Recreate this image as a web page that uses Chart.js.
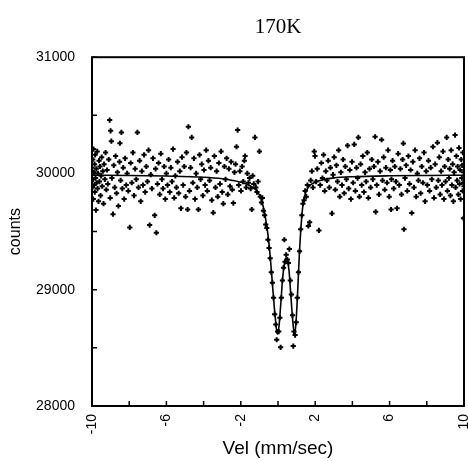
<!DOCTYPE html>
<html><head><meta charset="utf-8">
<script src="https://cdn.jsdelivr.net/npm/chart.js@4/dist/chart.umd.min.js"></script>
<style>html,body{margin:0;padding:0;background:#fff}#wrap{width:468px;height:461px}</style>
</head><body><div id="wrap"><canvas id="c" width="468" height="461"></canvas></div>
<script>
const chartTitle = "170K";
const xTitle = "Vel (mm/sec)";
const yTitle = "counts";
const xLabelTicks = [-10, -6, -2, 2, 6, 10];
const yLabelTicks = [28000, 29000, 30000, 31000];

// measured points [velocity, counts]
const dataLeft = [
[-10.00,30050],[-9.98,29880],[-9.96,30120],[-9.95,29950],[-9.93,29780],[-9.92,30210],[-9.90,30010],[-9.88,29900],
[-9.86,30080],[-9.85,29840],[-9.83,30160],[-9.81,29960],[-9.79,29685],[-9.77,30040],[-9.75,29920],[-9.72,30190],
[-9.70,29870],[-9.68,30000],[-9.65,29760],[-9.62,30110],[-9.60,29930],[-9.57,30060],[-9.54,29810],[-9.51,29980],
[-9.48,30140],[-9.45,29890],[-9.42,30020],[-9.38,29740],[-9.35,30080],[-9.31,29950],[-9.27,30180],[-9.23,29860],
[-9.19,30030],[-9.15,29910],[-9.10,30120],[-9.05,30459],[-9.02,29790],[-9.00,30367],[-8.96,30278],[-8.93,29960],
[-8.87,29650],[-8.83,30070],[-8.78,29880],[-8.73,30150],[-8.68,29830],[-8.63,30010],[-8.58,29720],[-8.52,30100],
[-8.50,30260],[-8.46,29940],[-8.42,30353],[-8.37,29870],[-8.32,30050],[-8.27,29780],[-8.22,30130],[-8.16,29900],
[-8.11,30000],[-8.05,29850],[-7.97,29536],[-7.92,30090],[-7.86,29920],[-7.80,30180],[-7.74,29810],[-7.68,30040],
[-7.62,29950],[-7.56,30353],[-7.50,29880],[-7.44,30110],[-7.38,29760],[-7.32,30020],[-7.26,29900],[-7.20,30160],
[-7.14,29840],[-7.08,30060],[-7.02,29930],[-6.96,30200],[-6.90,29556],[-6.84,29990],[-6.78,29870],[-6.72,30130],
[-6.63,29640],[-6.58,30040],[-6.54,29490],[-6.48,29910],[-6.42,30090],[-6.36,29820],[-6.30,30170],[-6.24,29950],
[-6.18,29870],[-6.12,30060],[-6.06,29780],[-6.00,30000],[-5.94,29900],[-5.88,30120],[-5.82,29840],[-5.76,30050],
[-5.70,29930],[-5.64,30210],[-5.58,29790],[-5.52,29980],[-5.46,29880],[-5.40,30100],[-5.34,29830],[-5.28,30020],
[-5.22,29700],[-5.16,30140],[-5.10,29900],[-5.04,30060],[-4.97,29800],[-4.92,30180],[-4.86,29690],[-4.82,30402],
[-4.76,29850],[-4.70,30050],[-4.64,30310],[-4.58,29920],[-4.52,30130],[-4.46,29780],[-4.40,30000],[-4.34,29880],
[-4.28,29690],[-4.22,30160],[-4.16,29950],[-4.10,30080],[-4.04,29810],[-3.98,30030],[-3.92,29900],[-3.86,30200],
[-3.80,29850],[-3.74,30110],[-3.68,29940],[-3.62,30050],[-3.56,29770],[-3.48,29663],[-3.42,30150],[-3.36,29880],
[-3.30,30020],[-3.24,29800],[-3.18,30090],[-3.12,29910],[-3.06,30190],[-3.00,29840],[-2.94,29740],[-2.88,30060],
[-2.82,29950],[-2.76,30130],[-2.70,29820],[-2.64,30040],[-2.58,29890],[-2.52,30100],[-2.46,29860],[-2.40,29745],
[-2.34,30010],[-2.28,30080],[-2.23,30230],[-2.17,30373],[-2.11,29900],[-2.05,30020]
];
const dataDip = [
[-1.99,29850],[-1.93,30060],[-1.87,29930],[-1.81,30110],[-1.77,30150],[-1.71,29880],[-1.65,30000],[-1.59,29920],
[-1.53,29960],[-1.47,29870],[-1.41,29690],[-1.36,29980],[-1.30,29910],[-1.24,30310],[-1.19,29880],[-1.13,29840],
[-1.07,29930],[-1.00,30190],[-0.95,29800],[-0.89,29750],[-0.84,29790],[-0.78,29680],[-0.72,29640],[-0.66,29560],
[-0.60,29530],[-0.54,29430],[-0.48,29360],[-0.42,29270],[-0.36,29150],[-0.30,29060],[-0.24,28930],[-0.18,28790],
[-0.12,28700],[-0.07,28570],[-0.02,28640],[0.04,28640],[0.10,28760],[0.14,28505],[0.18,28930],[0.24,29080],
[0.30,29190],[0.34,29430],[0.38,29240],[0.44,29300],[0.50,29260],[0.56,29230],[0.61,29350],[0.66,29080],
[0.72,28960],[0.78,28780],[0.82,28515],[0.86,28640],[0.92,28610],[0.98,28720],[1.04,28930],[1.10,29150],
[1.16,29330],[1.22,29520],[1.28,29640],[1.34,29740],[1.40,29770],[1.46,29850],[1.52,29800],[1.58,29900],
[1.63,29548],[1.70,29580],[1.76,29940],[1.82,30020],[1.88,29880],[1.95,30190],[1.99,30150]
];
const dataRight = [
[2.05,29930],[2.11,30040],[2.20,29510],[2.27,29900],[2.33,30090],[2.39,29960],[2.45,30160],[2.51,29850],
[2.57,30020],[2.63,29940],[2.70,30110],[2.76,29880],[2.82,30050],[2.90,29656],[2.96,29990],[3.02,30140],
[3.08,29860],[3.14,30070],[3.20,29930],[3.26,30200],[3.32,29800],[3.38,30010],[3.44,29900],[3.50,30120],
[3.56,29830],[3.62,30060],[3.68,29950],[3.74,30240],[3.80,29870],[3.86,30030],[3.92,29780],[3.98,30100],
[4.04,29920],[4.10,30250],[4.16,29850],[4.22,30050],[4.28,29960],[4.32,30310],[4.38,29800],[4.44,30080],
[4.50,29900],[4.56,30150],[4.62,29840],[4.68,30010],[4.74,29930],[4.80,30180],[4.86,29790],[4.92,30040],
[4.98,29880],[5.04,30120],[5.10,29950],[5.16,30060],[5.22,30316],[5.25,29670],[5.31,29900],[5.37,30100],
[5.43,29820],[5.49,30020],[5.57,30290],[5.62,29940],[5.68,30140],[5.74,29860],[5.80,30050],[5.86,29920],
[5.92,30200],[5.98,29800],[6.04,30030],[6.08,29690],[6.10,29950],[6.16,30110],[6.22,29870],[6.28,30060],
[6.34,29930],[6.40,29700],[6.46,30170],[6.52,29900],[6.58,30040],[6.64,29820],[6.70,30120],[6.74,30258],
[6.77,29520],[6.83,29960],[6.89,30070],[6.95,29850],[7.01,30150],[7.07,29910],[7.13,30030],[7.19,29660],
[7.25,30100],[7.31,29880],[7.37,30200],[7.43,29800],[7.49,30000],[7.55,29940],[7.61,30130],[7.67,29830],
[7.73,30060],[7.79,29920],[7.85,30180],[7.91,29760],[7.97,30020],[8.03,29900],[8.09,30110],[8.15,29850],
[8.21,30050],[8.27,29950],[8.33,30230],[8.39,29790],[8.45,30080],[8.51,29880],[8.57,30265],[8.62,29940],
[8.67,30140],[8.72,29820],[8.77,30020],[8.82,29900],[8.87,30190],[8.92,29780],[8.96,30060],[9.01,29930],
[9.07,30310],[9.11,29850],[9.15,30120],[9.19,29960],[9.23,30040],[9.27,29810],[9.31,30200],[9.35,29900],
[9.39,30080],[9.43,29760],[9.47,30010],[9.52,30330],[9.55,29880],[9.59,30150],[9.63,29940],[9.66,30060],
[9.70,29820],[9.73,30220],[9.76,29910],[9.79,30030],[9.82,29780],[9.85,30120],[9.88,29960],[9.90,30070],
[9.92,29850],[9.94,30180],[9.96,29920],[9.97,29615],[9.98,30010],[10.00,29890]
];
// fitted curve
const fitVel = [-10,-8,-6,-4,-3,-2.5,-2,-1.5,-1.2,-1.0,-0.85,-0.7,-0.6,-0.5,-0.4,-0.3,-0.2,-0.12,-0.04,0.05,0.15,0.25,0.35,0.42,0.5,0.6,0.7,0.78,0.88,0.96,1.05,1.15,1.25,1.35,1.5,1.7,2.0,2.5,3,4,6,8,10];
const fitCounts = [29985,29983,29978,29968,29955,29942,29925,29895,29860,29815,29750,29640,29545,29420,29250,29050,28850,28720,28620,28680,28880,29100,29230,29270,29260,29150,28930,28760,28620,28700,28960,29310,29570,29740,29840,29895,29925,29950,29962,29972,29980,29983,29985];

const toXY = a => a.map(p => ({x: p[0], y: p[1]}));
const scatterPts = toXY(dataLeft.concat(dataDip, dataRight));
const fitPts = fitVel.map((v, i) => ({x: v, y: fitCounts[i]}));

const frame = {
  id: 'frame',
  afterDraw(chart) {
    const {ctx, chartArea: a, scales: {x, y}} = chart;
    ctx.save();
    ctx.strokeStyle = '#000';
    ctx.lineWidth = 2;
    ctx.strokeRect(a.left, a.top, a.right - a.left, a.bottom - a.top);
    ctx.lineWidth = 1.5;
    ctx.beginPath();
    for (let v = -10; v <= 10; v += 2) {
      const px = x.getPixelForValue(v);
      ctx.moveTo(px, a.bottom); ctx.lineTo(px, a.bottom - 5);
    }
    for (let v = 28000; v <= 31000; v += 500) {
      const py = y.getPixelForValue(v);
      ctx.moveTo(a.left, py); ctx.lineTo(a.left + 5, py);
    }
    ctx.stroke();
    ctx.restore();
  }
};

new Chart(document.getElementById('c'), {
  type: 'scatter',
  data: {
    datasets: [
      {label: 'data', data: scatterPts, pointStyle: 'cross', pointRadius: 2.6, borderWidth: 2, borderColor: '#000', backgroundColor: '#000', showLine: false},
      {label: 'fit', data: fitPts, showLine: true, pointRadius: 0, borderWidth: 1.6, borderColor: '#000', cubicInterpolationMode: 'monotone', fill: false}
    ]
  },
  plugins: [frame],
  options: {
    responsive: false,
    animation: false,
    events: [],
    layout: {autoPadding: false, padding: {top: 0, right: 4, bottom: 0, left: 0}},
    plugins: {
      legend: {display: false},
      tooltip: {enabled: false},
      title: {display: true, fullSize: false, text: chartTitle, color: '#000', font: {family: 'Liberation Serif', size: 21, weight: 'normal'}, padding: {top: 15, bottom: 17}}
    },
    scales: {
      x: {
        type: 'linear', min: -10, max: 10,
        afterFit: s => { s.height = 55; s.paddingLeft = 0; s.paddingRight = 0; },
        grid: {display: false, drawTicks: false},
        border: {display: false},
        ticks: {stepSize: 2, autoSkip: false, maxRotation: 90, minRotation: 90, padding: 8, color: '#000',
          font: {family: 'Liberation Sans', size: 14},
          callback: v => xLabelTicks.includes(v) ? String(v) : ''},
        title: {display: true, text: xTitle, color: '#000', font: {family: 'Liberation Sans', size: 19}, padding: {top: 0, bottom: 1}}
      },
      y: {
        type: 'linear', min: 28000, max: 31000,
        afterFit: s => { s.width = 92; s.paddingTop = 0; s.paddingBottom = 0; },
        grid: {display: false, drawTicks: false},
        border: {display: false},
        ticks: {stepSize: 500, autoSkip: false, padding: 17, color: '#000',
          font: {family: 'Liberation Sans', size: 14},
          callback: v => yLabelTicks.includes(v) ? String(v) : ''},
        title: {display: true, text: yTitle, color: '#000', font: {family: 'Liberation Sans', size: 16}, padding: {top: 6, bottom: 0}}
      }
    }
  }
});
</script></body></html>
